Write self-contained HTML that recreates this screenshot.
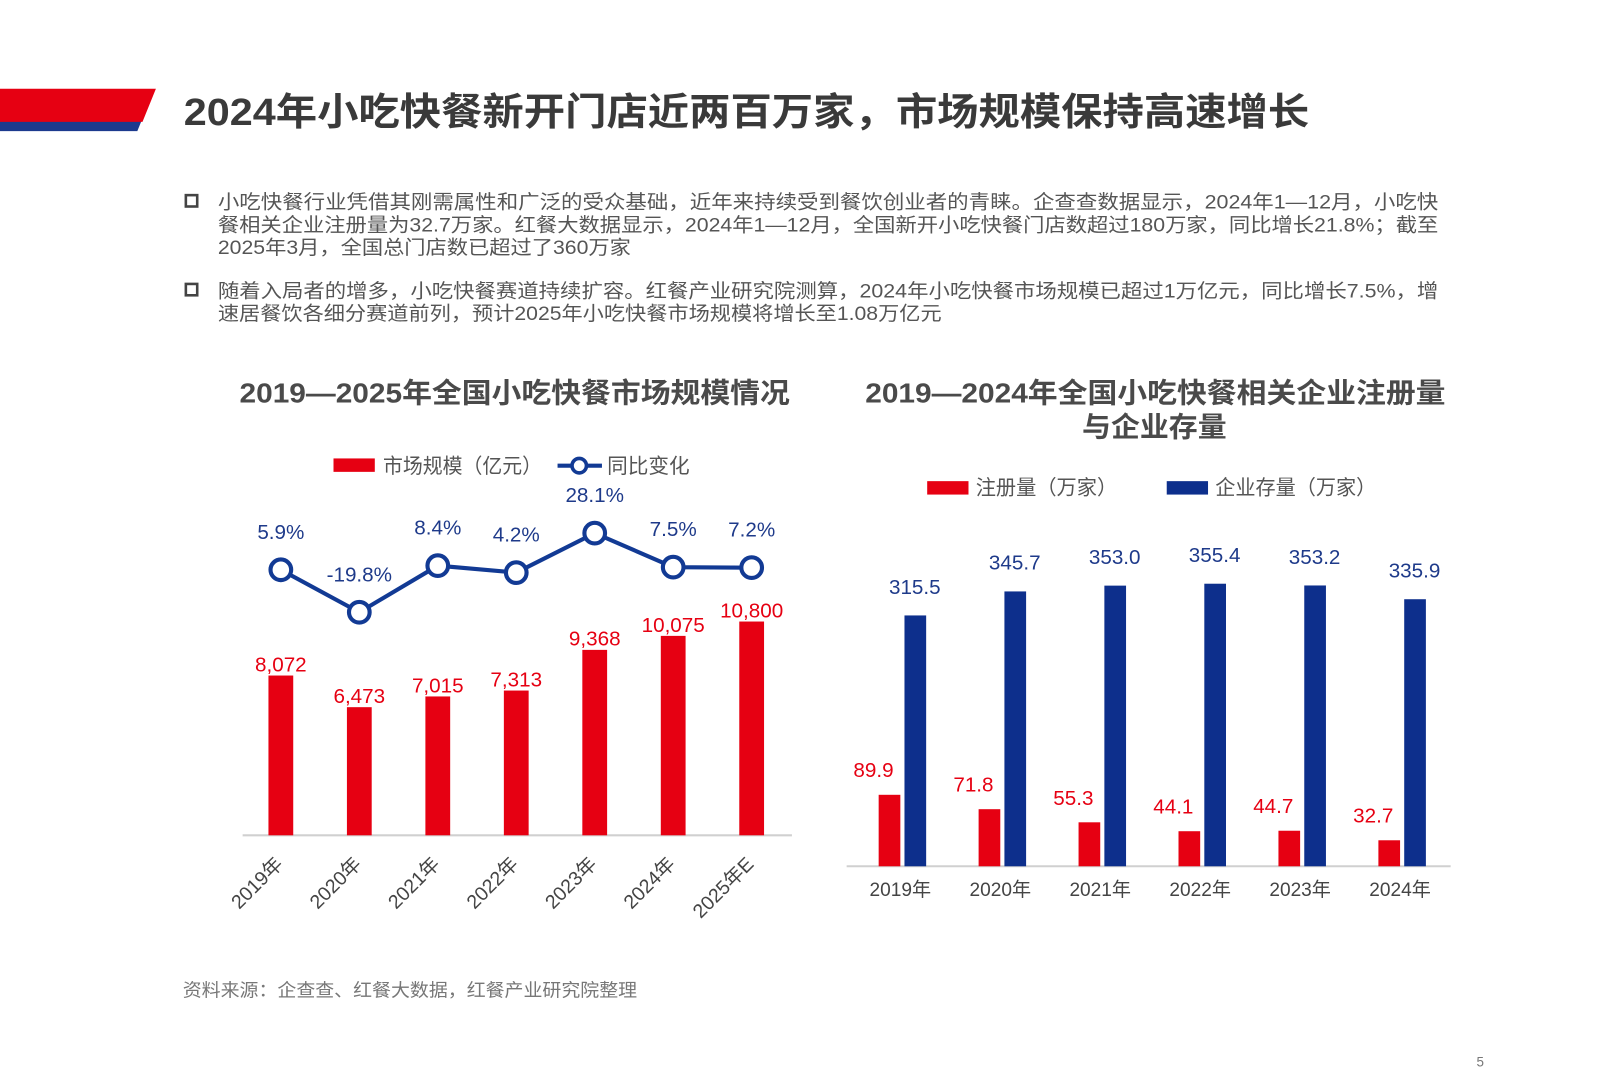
<!DOCTYPE html>
<html><head><meta charset="utf-8">
<style>
html,body{margin:0;padding:0;background:#fff;}
svg{display:block;font-family:"Liberation Sans","Noto Sans CJK SC",sans-serif;}
</style></head>
<body>
<svg id="page" width="1620" height="1080" viewBox="0 0 1569 1046" xmlns="http://www.w3.org/2000/svg">
<rect width="1569" height="1046" fill="#fff"/>
<g>
<polygon points="0,95 146,95 133,127 0,127" fill="#1c3a8e"/>
<polygon points="0,86 151,86 138,118 0,118" fill="#e60012"/>
</g>
<text x="178" y="121" font-size="37" font-weight="bold" fill="#3a3a3a" textLength="1090" lengthAdjust="spacingAndGlyphs">2024年小吃快餐新开门店近两百万家，市场规模保持高速增长</text>
<g font-size="18.5" fill="#555">
<rect x="180" y="189" width="11" height="11" fill="none" stroke="#444" stroke-width="2.5"/>
<text x="211" y="202" textLength="1182" lengthAdjust="spacingAndGlyphs">小吃快餐行业凭借其刚需属性和广泛的受众基础，近年来持续受到餐饮创业者的青睐。企查查数据显示，2024年1—12月，小吃快</text>
<text x="211" y="224" textLength="1182" lengthAdjust="spacingAndGlyphs">餐相关企业注册量为32.7万家。红餐大数据显示，2024年1—12月，全国新开小吃快餐门店数超过180万家，同比增长21.8%；截至</text>
<text x="211" y="246" textLength="400" lengthAdjust="spacingAndGlyphs">2025年3月，全国总门店数已超过了360万家</text>
<rect x="180" y="275" width="11" height="11" fill="none" stroke="#444" stroke-width="2.5"/>
<text x="211" y="288" textLength="1182" lengthAdjust="spacingAndGlyphs">随着入局者的增多，小吃快餐赛道持续扩容。红餐产业研究院测算，2024年小吃快餐市场规模已超过1万亿元，同比增长7.5%，增</text>
<text x="211" y="310" textLength="701" lengthAdjust="spacingAndGlyphs">速居餐饮各细分赛道前列，预计2025年小吃快餐市场规模将增长至1.08万亿元</text>
</g>

<!-- Left chart -->
<g id="left">
<text x="232" y="390" font-size="27" font-weight="bold" fill="#4a4a4a" textLength="533" lengthAdjust="spacingAndGlyphs">2019—2025年全国小吃快餐市场规模情况</text>
<rect x="323" y="444" width="40" height="13" fill="#e60012"/>
<text x="371" y="458" font-size="20" fill="#555" textLength="154" lengthAdjust="spacingAndGlyphs">市场规模（亿元）</text>
<line x1="540" y1="451" x2="583" y2="451" stroke="#123a94" stroke-width="4"/>
<circle cx="561" cy="451" r="7" fill="#fff" stroke="#123a94" stroke-width="3.5"/>
<text x="588" y="458" font-size="20" fill="#555">同比变化</text>
<line x1="235" y1="809" x2="767" y2="809" stroke="#d0d0d0" stroke-width="2"/>
</g>

<!-- Right chart -->
<g id="right">
<text x="838" y="390" font-size="27" font-weight="bold" fill="#4a4a4a" textLength="562" lengthAdjust="spacingAndGlyphs">2019—2024年全国小吃快餐相关企业注册量</text>
<text x="1048" y="423" font-size="27" font-weight="bold" fill="#4a4a4a" textLength="140" lengthAdjust="spacingAndGlyphs">与企业存量</text>
<rect x="898" y="466" width="40" height="13" fill="#e60012"/>
<text x="945" y="479" font-size="20" fill="#555" textLength="137" lengthAdjust="spacingAndGlyphs">注册量（万家）</text>
<rect x="1130" y="466" width="40" height="13" fill="#0d2f8c"/>
<text x="1177" y="479" font-size="20" fill="#555" textLength="156" lengthAdjust="spacingAndGlyphs">企业存量（万家）</text>
<line x1="820" y1="839" x2="1405" y2="839" stroke="#d0d0d0" stroke-width="2"/>
</g>

<text x="177" y="965" font-size="17.5" fill="#777" textLength="440" lengthAdjust="spacingAndGlyphs">资料来源：企查查、红餐大数据，红餐产业研究院整理</text>
<text x="1430" y="1033" font-size="13" fill="#777">5</text>
</svg>
<script>
const NS="http://www.w3.org/2000/svg";
// left chart data
const leftCategories=["2019年","2020年","2021年","2022年","2023年","2024年","2025年E"];
const marketSize=[8072,6473,7015,7313,9368,10075,10800];
const marketLabels=["8,072","6,473","7,015","7,313","9,368","10,075","10,800"];
const yoyChange=[5.9,-19.8,8.4,4.2,28.1,7.5,7.2];
const yoyLabels=["5.9%","-19.8%","8.4%","4.2%","28.1%","7.5%","7.2%"];
// right chart data
const rightCategories=["2019年","2020年","2021年","2022年","2023年","2024年"];
const registrations=[89.9,71.8,55.3,44.1,44.7,32.7];
const stock=[315.5,345.7,353.0,355.4,353.2,335.9];

function mk(tag,attrs,parent,txt){const e=document.createElementNS(NS,tag);for(const k in attrs)e.setAttribute(k,attrs[k]);if(txt!==undefined)e.textContent=txt;parent.appendChild(e);return e;}

const L=document.getElementById('left');
const lx=i=>272+i*76;
const ly=v=>809-v*0.01917;
const lyy=v=>561.3-v*1.6;
marketSize.forEach((v,i)=>{
  const r=mk('rect',{x:lx(i)-12,y:ly(v),width:24,height:809-ly(v),fill:'#e60012'},L);
  
  
  const t=mk('text',{x:lx(i),y:ly(v)-4,'font-size':20,fill:'#e60012','text-anchor':'middle'},L,marketLabels[i]);
  
  
  const c=mk('text',{x:lx(i)+3,y:838,'font-size':19,fill:'#444','text-anchor':'end',transform:`rotate(-45 ${lx(i)+3} 838)`},L,leftCategories[i]);
  
  
});
const pl=mk('polyline',{points:yoyChange.map((v,i)=>lx(i)+','+lyy(v)).join(' '),fill:'none',stroke:'#123a94','stroke-width':4},L);


yoyChange.forEach((v,i)=>{
  const c=mk('circle',{cx:lx(i),cy:lyy(v),r:10,fill:'#fff',stroke:'#123a94','stroke-width':4},L);
  
  
  const t=mk('text',{x:lx(i),y:lyy(v)-30,'font-size':20,fill:'#1e3a8a','text-anchor':'middle'},L,yoyLabels[i]);
  
  
});

const R=document.getElementById('right');
const rx=i=>872+i*96.8;
const ry=v=>839-v*0.77;
rightCategories.forEach((cat,i)=>{
  const a=mk('rect',{x:rx(i)-21,y:ry(registrations[i]),width:21,height:839-ry(registrations[i]),fill:'#e60012'},R);
  
  
  const b=mk('rect',{x:rx(i)+4,y:ry(stock[i]),width:21,height:839-ry(stock[i]),fill:'#0d2f8c'},R);
  
  
  const t1=mk('text',{x:rx(i)-26,y:ry(registrations[i])-17,'font-size':20,fill:'#e60012','text-anchor':'middle'},R,registrations[i].toFixed(1));
  
  
  const t2=mk('text',{x:rx(i)+14,y:ry(stock[i])-21,'font-size':20,fill:'#1e3a8a','text-anchor':'middle'},R,stock[i].toFixed(1));
  
  
  const c=mk('text',{x:rx(i),y:868,'font-size':18.5,fill:'#444','text-anchor':'middle'},R,cat);
  
  
});
</script>
</body></html>
